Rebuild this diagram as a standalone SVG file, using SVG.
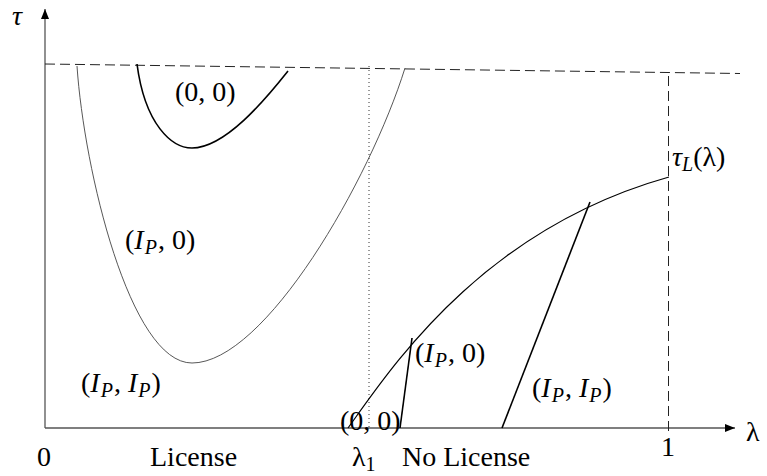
<svg xmlns="http://www.w3.org/2000/svg" width="767" height="476" viewBox="0 0 767 476">
<style>
text{font-family:"Liberation Serif","DejaVu Serif",serif;font-size:28px;fill:#000}
.it{font-style:italic}
.sub{font-style:italic;font-size:20px}
.axis{stroke:#555;stroke-width:1.3;fill:none}
.dash{stroke:#222;stroke-width:1;stroke-dasharray:10 5;fill:none}
.dot{stroke:#333;stroke-width:1;stroke-dasharray:1 3;fill:none}
.thin{stroke:#444;stroke-width:0.9;fill:none}
.solid{stroke:#000;stroke-width:1.6;fill:none}
.line{stroke:#000;stroke-width:1.2;fill:none}
</style>
<defs>
<marker id="ah" viewBox="0 0 10 8" refX="10" refY="4" markerWidth="10" markerHeight="8" markerUnits="userSpaceOnUse" orient="auto">
<path d="M0,0 L10,4 L0,8 Z" fill="#000"/>
</marker>
</defs>
<g id="connectors">
<line class="axis" x1="45" y1="428" x2="45" y2="9" marker-end="url(#ah)"/>
<line class="axis" x1="45" y1="428" x2="735" y2="428" marker-end="url(#ah)"/>
<line class="dash" x1="45" y1="64" x2="740" y2="73.5"/>
<line class="dash" x1="668.5" y1="76" x2="668.5" y2="433"/>
<line class="dot" x1="369" y1="66" x2="369" y2="430"/>
<path class="thin" d="M77,66 C84,170 130,363 192,363 C265,363 370,180 405,68"/>
<path class="solid" d="M137,64 C145,125 172,148 192,148 C225,148 265,100 288,71"/>
<path class="line" d="M348,428 C390,370 480,230 669,177"/>
<path class="solid" d="M400,428 L412,338"/>
<path class="solid" d="M502,428 L590,202"/>
</g>
<g id="labels">
<text class="it" x="12" y="25">τ</text>
<text x="746" y="441">λ</text>
<text x="44" y="466" text-anchor="middle">0</text>
<text x="150" y="466">License</text>
<text x="352" y="466">λ<tspan font-size="20" dy="5">1</tspan></text>
<text x="402" y="466">No License</text>
<text x="668" y="456" text-anchor="middle">1</text>
<text x="672" y="166"><tspan class="it">τ</tspan><tspan class="sub" dy="5">L</tspan><tspan dy="-5">(λ)</tspan></text>
<text x="175" y="101">(0, 0)</text>
<text x="125" y="249">(<tspan class="it">I</tspan><tspan class="sub" dx="1" dy="5">P</tspan><tspan dx="1" dy="-5">, 0)</tspan></text>
<text x="81" y="392">(<tspan class="it">I</tspan><tspan class="sub" dx="1" dy="5">P</tspan><tspan dx="1" dy="-5">, </tspan><tspan class="it">I</tspan><tspan class="sub" dx="1" dy="5">P</tspan><tspan dx="1" dy="-5">)</tspan></text>
<text x="415" y="362">(<tspan class="it">I</tspan><tspan class="sub" dx="1" dy="5">P</tspan><tspan dx="1" dy="-5">, 0)</tspan></text>
<text x="532" y="397">(<tspan class="it">I</tspan><tspan class="sub" dx="1" dy="5">P</tspan><tspan dx="1" dy="-5">, </tspan><tspan class="it">I</tspan><tspan class="sub" dx="1" dy="5">P</tspan><tspan dx="1" dy="-5">)</tspan></text>
<text x="340" y="430">(0, 0)</text>
</g>
</svg>
